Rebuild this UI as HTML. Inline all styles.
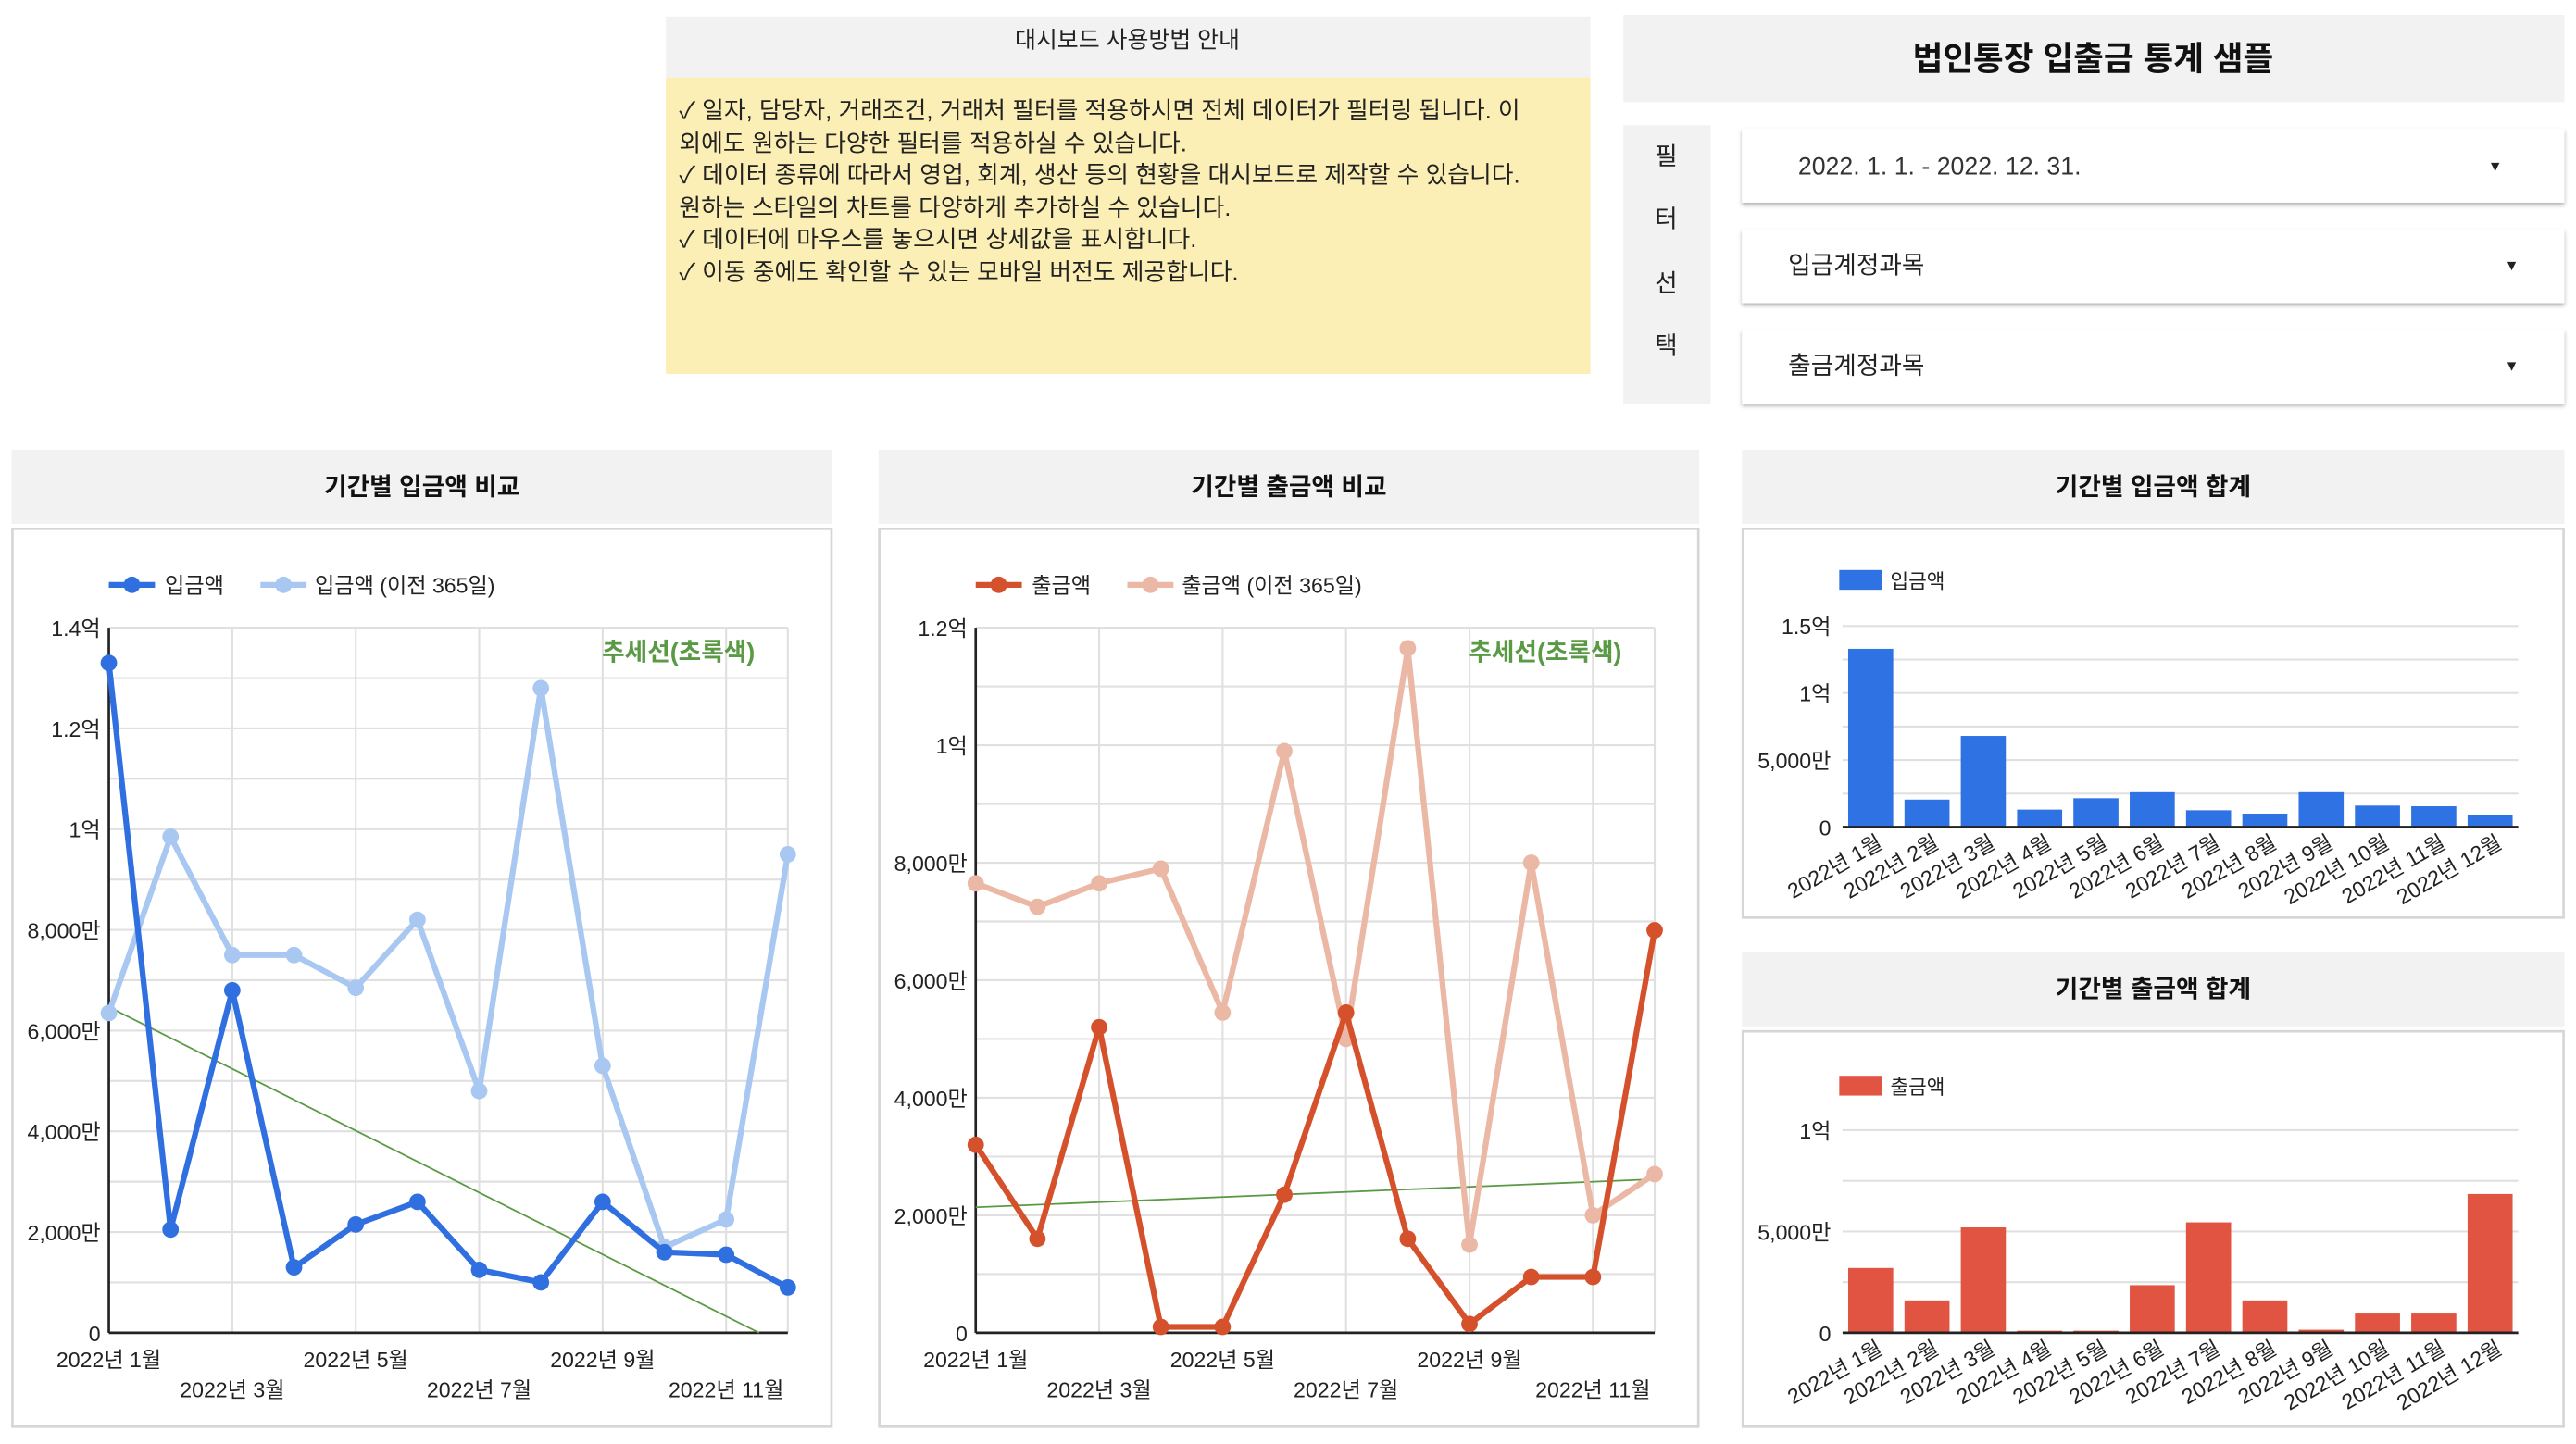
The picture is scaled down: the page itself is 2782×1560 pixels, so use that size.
<!DOCTYPE html>
<html><head><meta charset="utf-8">
<style>
html,body{margin:0;padding:0;background:#fff;overflow:hidden}
svg{display:block;font-family:"Liberation Sans","Noto Sans CJK KR",sans-serif}
</style></head>
<body>
<svg id="root" width="2782" height="1560" viewBox="0 0 1563 876.5" xmlns="http://www.w3.org/2000/svg">
<defs>
<filter id="sh" x="-5%" y="-20%" width="110%" height="150%"><feDropShadow dx="0" dy="1.5" stdDeviation="1.2" flood-color="#000" flood-opacity="0.3"/></filter>
</defs>
<!-- info panel -->
<g>
<rect x="404" y="10" width="561" height="37" fill="#f2f2f2"/>
<text x="684" y="29" font-size="14" text-anchor="middle" fill="#222">대시보드 사용방법 안내</text>
<rect x="404" y="47" width="561" height="180" fill="#fcefb5"/>
<g font-size="14.5" fill="#222">
<text x="412" y="72">✓ 일자, 담당자, 거래조건, 거래처 필터를 적용하시면 전체 데이터가 필터링 됩니다. 이</text>
<text x="412" y="92">외에도 원하는 다양한 필터를 적용하실 수 있습니다.</text>
<text x="412" y="111">✓ 데이터 종류에 따라서 영업, 회계, 생산 등의 현황을 대시보드로 제작할 수 있습니다.</text>
<text x="412" y="131">원하는 스타일의 차트를 다양하게 추가하실 수 있습니다.</text>
<text x="412" y="150">✓ 데이터에 마우스를 놓으시면 상세값을 표시합니다.</text>
<text x="412" y="170">✓ 이동 중에도 확인할 수 있는 모바일 버전도 제공합니다.</text>
</g>
</g>
<g>
<rect x="985" y="9" width="571" height="53" fill="#f2f2f2"/>
<text x="1270" y="37" font-size="20" font-weight="bold" text-anchor="middle" dominant-baseline="middle" fill="#111">법인통장 입출금 통계 샘플</text>
</g>
<g>
<rect x="985" y="76" width="53" height="169" fill="#f2f2f2"/>
<g font-size="15" text-anchor="middle" fill="#222"><text x="1011" y="100">필</text><text x="1011" y="138">터</text><text x="1011" y="177">선</text><text x="1011" y="215">택</text></g>
</g>
<g>
<rect x="1057" y="78" width="499" height="45" fill="#fff" filter="url(#sh)"/>
<text x="1091" y="106" font-size="15" fill="#333">2022. 1. 1. - 2022. 12. 31.</text>
<text x="1514" y="104" font-size="9" text-anchor="middle" fill="#222">▼</text>
</g>
<g>
<rect x="1057" y="139" width="499" height="45" fill="#fff" filter="url(#sh)"/>
<text x="1085" y="166" font-size="15" fill="#222">입금계정과목</text>
<text x="1524" y="164" font-size="9" text-anchor="middle" fill="#222">▼</text>
</g>
<g>
<rect x="1057" y="200" width="499" height="45" fill="#fff" filter="url(#sh)"/>
<text x="1085" y="227" font-size="15" fill="#222">출금계정과목</text>
<text x="1524" y="225" font-size="9" text-anchor="middle" fill="#222">▼</text>
</g>
<g id="charts"></g>
</svg>
<script>
const months = ["2022년 1월","2022년 2월","2022년 3월","2022년 4월","2022년 5월","2022년 6월","2022년 7월","2022년 8월","2022년 9월","2022년 10월","2022년 11월","2022년 12월"];
// values in 만원
const depositValues = [13300,2050,6800,1300,2150,2600,1250,1000,2600,1600,1550,900];
const depositPrevValues = [6350,9850,7500,7500,6850,8200,4800,12800,5300,1700,2250,9500];
const withdrawValues = [3200,1600,5200,100,100,2350,5450,1600,150,950,950,6850];
const withdrawPrevValues = [7650,7250,7650,7900,5450,9900,5000,11650,1500,8000,2000,2700];
const lineTicks1 = [0,2000,4000,6000,8000,10000,12000,14000];
const lineTickLabels1 = ["0","2,000만","4,000만","6,000만","8,000만","1억","1.2억","1.4억"];
const lineTicks2 = [0,2000,4000,6000,8000,10000,12000];
const lineTickLabels2 = ["0","2,000만","4,000만","6,000만","8,000만","1억","1.2억"];
const barTicks1 = [0,5000,10000,15000];
const barTickLabels1 = ["0","5,000만","1억","1.5억"];
const barTicks2 = [0,5000,10000];
const barTickLabels2 = ["0","5,000만","1억"];

const NS="http://www.w3.org/2000/svg";
const root=document.getElementById('charts');
function mk(tag,attrs,parent,txt){const e=document.createElementNS(NS,tag);for(const k in attrs)e.setAttribute(k,attrs[k]);if(txt!==undefined)e.textContent=txt;(parent||root).appendChild(e);return e;}

function panel(x,y,w,hh,bh,title,name){
  const g=mk('g',{});
  
  
  mk('rect',{x:x,y:y,width:w,height:hh,fill:'#f2f2f2'},g);
  mk('text',{x:x+w/2,y:y+hh/2+5,'font-size':15,'font-weight':'bold','text-anchor':'middle',fill:'#111'},g,title);
  mk('rect',{x:x+0.5,y:y+hh+3,width:w-1,height:bh,fill:'#fff',stroke:'#d6d6d6','stroke-width':1.5},g);
  return g;
}

function lineChart(o){
  const g=panel(o.px,273,498,45,545,o.title,o.name);
  const x0=o.x0,x1=o.x0+412,yb=809,yt=381;
  const xs=i=>x0+i*(x1-x0)/11;
  const ys=v=>yb-(v/o.max)*(yb-yt);
  // minor + major gridlines
  for(let v=0;v<=o.max;v+=1000){
    const l=mk('line',{x1:x0,x2:x1,y1:ys(v),y2:ys(v),stroke:'#e0e0e0','stroke-width':1.2},g);
    
    
  }
  for(let i=0;i<12;i+=2){mk('line',{x1:xs(i),x2:xs(i),y1:yt,y2:yb,stroke:'#e0e0e0','stroke-width':1.2},g);}
  mk('line',{x1:xs(11),x2:xs(11),y1:yt,y2:yb,stroke:'#e0e0e0','stroke-width':1.2},g);
  o.ticks.forEach((t,i)=>{
    const e=mk('text',{x:x0-5,y:ys(t)+5,'font-size':13,'text-anchor':'end',fill:'#222'},g,o.tickLabels[i]);
    
    
  });
  mk('line',{x1:x0,x2:x0,y1:yt,y2:yb,stroke:'#222','stroke-width':1.5},g);
  mk('line',{x1:x0,x2:x1,y1:yb,y2:yb,stroke:'#222','stroke-width':1.5},g);
  months.forEach((m,i)=>{
    if(i%2===0||i===11)return;
  });
  for(let i=0;i<12;i+=2){
    const row=(i/2)%2;
    const e=mk('text',{x:xs(i),y:row?848:830,'font-size':13,'text-anchor':'middle',fill:'#222'},g,months[i]);
    
    
  }
  // trend line (linear regression of primary series)
  const n=o.data.length;let sx=0,sy=0,sxy=0,sxx=0;
  o.data.forEach((v,i)=>{sx+=i;sy+=v;sxy+=i*v;sxx+=i*i;});
  const b=(n*sxy-sx*sy)/(n*sxx-sx*sx),a=(sy-b*sx)/n;
  let iEnd=11,vEnd=a+b*11;
  if(vEnd<0){iEnd=-a/b;vEnd=0;}
  const tl=mk('line',{x1:xs(0),y1:ys(a),x2:xs(iEnd),y2:ys(vEnd),stroke:'#5a9a45','stroke-width':1},g);
  
  
  const series=[[o.prev,o.c2,'previous-year-line'],[o.data,o.c1,'current-line']];
  series.forEach(([d,c,nm])=>{
    const pl=mk('polyline',{points:d.map((v,i)=>xs(i)+','+ys(v)).join(' '),fill:'none',stroke:c,'stroke-width':3.5,'stroke-linejoin':'round'},g);
    
    
    d.forEach((v,i)=>{
      const p=mk('circle',{cx:xs(i),cy:ys(v),r:5,fill:c},g);
      
      
    });
  });
  mk('text',{x:x1-20,y:401,'font-size':15,'font-weight':'bold','text-anchor':'end',fill:'#5a9a45'},g,'추세선(초록색)');
  // legend
  const lg=mk('g',{},g);
  
  
  const lx=o.px+59;
  mk('line',{x1:lx,x2:lx+28,y1:355,y2:355,stroke:o.c1,'stroke-width':3.5},lg);
  mk('circle',{cx:lx+14,cy:355,r:5,fill:o.c1},lg);
  mk('text',{x:lx+34,y:360,'font-size':13,fill:'#222'},lg,o.l1);
  mk('line',{x1:lx+92,x2:lx+120,y1:355,y2:355,stroke:o.c2,'stroke-width':3.5},lg);
  mk('circle',{cx:lx+106,cy:355,r:5,fill:o.c2},lg);
  mk('text',{x:lx+125,y:360,'font-size':13,fill:'#222'},lg,o.l2);
}

function barChart(o){
  const g=panel(1057,o.hy,499,o.hh,o.bh,o.title,o.name);
  const x0=1118,x1=1528,yb=o.yb,yt=o.yt;
  const ys=v=>yb-(v/o.max)*(yb-yt);
  const step=(x1-x0)/12;
  for(let v=o.minor;v<=o.max;v+=o.minor){mk('line',{x1:x0,x2:x1,y1:ys(v),y2:ys(v),stroke:'#e0e0e0','stroke-width':1.2},g);}
  o.ticks.forEach((t,i)=>{
    const e=mk('text',{x:x0-7,y:ys(t)+5,'font-size':13,'text-anchor':'end',fill:'#222'},g,o.tickLabels[i]);
    
    
  });
  o.data.forEach((v,i)=>{
    const bx=x0+i*step+step*0.1;
    const r=mk('rect',{x:bx,y:ys(v),width:step*0.8,height:yb-ys(v),fill:o.color},g);
    
    
    const cx=x0+i*step+step/2+8, cy=yb+12;
    const t=mk('text',{x:cx,y:cy,'font-size':13,'text-anchor':'end',fill:'#222',transform:'rotate(-30 '+cx+' '+cy+')'},g,months[i]);
    
    
  });
  mk('line',{x1:x0,x2:x1,y1:yb,y2:yb,stroke:'#222','stroke-width':1.5},g);
  const lg=mk('g',{},g);
  
  
  mk('rect',{x:1116,y:o.ly-6,width:26,height:12,fill:o.color},lg);
  mk('text',{x:1147,y:o.ly+5,'font-size':12,fill:'#222'},lg,o.label);
}

lineChart({px:7,x0:66,title:'기간별 입금액 비교',name:'deposit-comparison-chart',data:depositValues,prev:depositPrevValues,max:14000,ticks:lineTicks1,tickLabels:lineTickLabels1,c1:'#2f6fe0',c2:'#a8c8f2',l1:'입금액',l2:'입금액 (이전 365일)'});
lineChart({px:533,x0:592,title:'기간별 출금액 비교',name:'withdrawal-comparison-chart',data:withdrawValues,prev:withdrawPrevValues,max:12000,ticks:lineTicks2,tickLabels:lineTickLabels2,c1:'#d5512c',c2:'#ebb8a6',l1:'출금액',l2:'출금액 (이전 365일)'});
barChart({hy:273,hh:45,bh:236,title:'기간별 입금액 합계',name:'deposit-total-chart',data:depositValues,max:15000,minor:2500,ticks:barTicks1,tickLabels:barTickLabels1,yb:502,yt:380,color:'#2f72e4',ly:352,label:'입금액'});
barChart({hy:578,hh:45,bh:240,title:'기간별 출금액 합계',name:'withdrawal-total-chart',data:withdrawValues,max:10000,minor:2500,ticks:barTicks2,tickLabels:barTickLabels2,yb:809,yt:686,color:'#e05441',ly:659,label:'출금액'});
</script>
</body></html>
